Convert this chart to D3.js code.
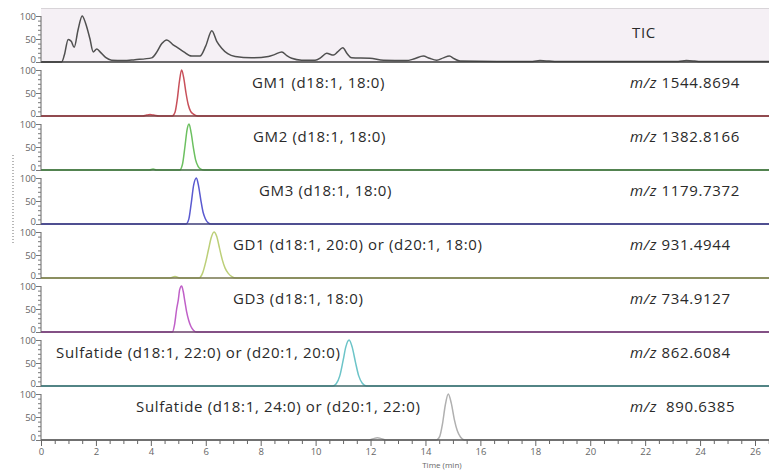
<!DOCTYPE html>
<html lang="en">
<head>
<meta charset="UTF-8">
<title>Ganglioside chromatograms</title>
<style>
  body { margin: 0; background: #fff; }
  svg { display: block; }
  .lbl { font-family: "Open Sans", sans-serif; font-size: 15px; letter-spacing: 0.65px; fill: #2a2a2a; }
  .tick-lbl { font-family: "Open Sans", sans-serif; font-size: 9.5px; fill: #666; }
</style>
</head>
<body>
<svg id="chart" width="769" height="472"></svg>
<script src="https://cdn.jsdelivr.net/npm/d3@7"></script>
<script>
// trace data (time in min, relative intensity %)
const ticTime = [0, 0.75, 0.85, 0.99, 1.1, 1.21, 1.35, 1.5, 1.62, 1.78, 1.9, 2.03, 2.15, 2.35, 2.57, 3.0, 3.42, 4.03, 4.2, 4.4, 4.58, 4.8, 5.0, 5.2, 5.49, 5.79, 6.0, 6.22, 6.4, 6.58, 6.8, 7.07, 7.67, 8.28, 8.5, 8.77, 8.95, 9.13, 9.49, 9.98, 10.2, 10.4, 10.65, 10.8, 10.99, 11.15, 11.31, 11.98, 12.47, 13.3, 13.6, 13.92, 14.15, 14.41, 14.65, 14.87, 15.05, 15.26, 16.6, 17.9, 18.17, 18.5, 18.78, 20, 22, 23.2, 23.5, 23.8, 24.0, 27];
const ticInt  = [0, 0, 15, 49, 45, 32, 70, 100, 85, 51, 22, 28, 22, 10, 4, 3, 5, 9, 20, 40, 48, 38, 30, 22, 13, 13, 35, 68, 45, 30, 18, 12, 9, 12, 16, 22, 14, 8, 4, 4, 10, 19, 15, 22, 31, 18, 9, 8, 4, 3, 7, 13, 8, 4, 9, 13, 7, 2, 1, 1, 3, 2, 1, 1, 1, 1, 3, 2, 1, 1];

const gm1Time = [0, 3.7, 3.85, 3.97, 4.1, 4.3, 4.78, 4.88, 4.96, 5.04, 5.12, 5.2, 5.28, 5.36, 5.45, 5.55, 5.7, 27];
const gm1Int  = [0, 0, 2, 3, 2, 0, 0, 8, 35, 75, 100, 82, 50, 25, 10, 4, 0, 0];

const gm2Time = [0, 3.95, 4.08, 4.2, 5.05, 5.15, 5.24, 5.32, 5.39, 5.47, 5.55, 5.63, 5.72, 5.82, 5.95, 27];
const gm2Int  = [0, 0, 2, 0, 0, 12, 50, 88, 100, 80, 48, 22, 8, 2, 0, 0];

const gm3Time = [0, 5.28, 5.38, 5.47, 5.56, 5.66, 5.74, 5.82, 5.9, 5.98, 6.08, 6.2, 27];
const gm3Int  = [0, 0, 10, 45, 85, 100, 82, 52, 26, 12, 3, 0, 0];

const gd1Time = [0, 4.7, 4.88, 5.05, 5.75, 5.88, 6.0, 6.1, 6.2, 6.3, 6.4, 6.5, 6.6, 6.7, 6.82, 6.95, 7.1, 27];
const gd1Int  = [0, 0, 3, 0, 0, 10, 35, 62, 88, 100, 90, 65, 40, 22, 10, 3, 0, 0];

const gd3Time = [0, 4.78, 4.86, 4.94, 5.0, 5.05, 5.12, 5.18, 5.24, 5.3, 5.38, 5.46, 5.55, 5.67, 27];
const gd3Int  = [0, 0, 15, 50, 70, 92, 100, 88, 66, 45, 25, 12, 4, 0, 0];

const sulf1Time = [0, 10.62, 10.75, 10.88, 11.0, 11.1, 11.22, 11.33, 11.45, 11.57, 11.7, 11.85, 27];
const sulf1Int  = [0, 0, 5, 22, 55, 85, 100, 85, 52, 22, 6, 0, 0];

const sulf2Time = [0, 11.95, 12.1, 12.25, 12.4, 12.55, 14.4, 14.52, 14.62, 14.72, 14.83, 14.94, 15.05, 15.16, 15.28, 15.42, 27];
const sulf2Int  = [0, 0, 3, 5, 3, 0, 0, 8, 35, 75, 100, 80, 45, 20, 6, 0, 0];

const names  = ["TIC", "GM1 (d18:1, 18:0)", "GM2 (d18:1, 18:0)", "GM3 (d18:1, 18:0)",
                "GD1 (d18:1, 20:0) or (d20:1, 18:0)", "GD3 (d18:1, 18:0)",
                "Sulfatide (d18:1, 22:0) or (d20:1, 20:0)", "Sulfatide (d18:1, 24:0) or (d20:1, 22:0)"];
const mzText = [null, "1544.8694", "1382.8166", "1179.7372", "931.4944", "734.9127", "862.6084", " 890.6385"];
const yTicks = [0, 50, 100];
const xTicks = [0, 2, 4, 6, 8, 10, 12, 14, 16, 18, 20, 22, 24, 26];

const traces = [
  [ticTime, ticInt], [gm1Time, gm1Int], [gm2Time, gm2Int], [gm3Time, gm3Int],
  [gd1Time, gd1Int], [gd3Time, gd3Int], [sulf1Time, sulf1Int], [sulf2Time, sulf2Int]
];
const lineColors = ["#505050", "#c8505a", "#6cc060", "#5a5ad0", "#bccf78", "#c060c8", "#6cc4c8", "#b0b0b0"];
const baseColors = ["#3a3a3a", "#7a3a3e", "#3e6a3e", "#3e3e78", "#76764e", "#6a3e6a", "#3e6a6a", "#555555"];
const labelX = [632, 252, 253, 259, 233, 233, 56, 136];

const svg = d3.select("#chart");
const W = 769;
const left = 41, panelH = 54, firstBase = 62;

const x = d3.scaleLinear().domain([0, 26]).range([left, 755]);

// small dotted mark at far left
svg.append("line")
  .attr("x1", 13).attr("x2", 13).attr("y1", 155).attr("y2", 245)
  .attr("stroke", "#888").attr("stroke-width", 1.2)
  .attr("stroke-dasharray", "1,2");

traces.forEach((tr, i) => {
  const base = firstBase + panelH * i;
  const y = d3.scaleLinear().domain([0, 100]).range([base, base - 46]);
  const g = svg.append("g");

  if (i === 0) {
    g.append("rect")
      .attr("x", left).attr("y", base - panelH)
      .attr("width", W - left).attr("height", panelH)
      .attr("fill", "#f5f0f5");
    g.append("line")
      .attr("x1", left).attr("x2", W)
      .attr("y1", base - panelH + 0.5).attr("y2", base - panelH + 0.5)
      .attr("stroke", "#d8d4d8");
  }

  const pts = tr[0].map((t, k) => [t, tr[1][k]]);
  const line = d3.line()
    .x(d => x(d[0]))
    .y(d => y(d[1]))
    .curve(d3.curveMonotoneX);

  g.append("path")
    .datum(pts)
    .attr("fill", "none")
    .attr("stroke", lineColors[i])
    .attr("stroke-width", 1.5)
    .attr("stroke-linejoin", "round")
    .attr("d", line);

  // baseline
  g.append("line")
    .attr("x1", left).attr("x2", W)
    .attr("y1", base).attr("y2", base)
    .attr("stroke", baseColors[i]).attr("stroke-width", 1.6);

  // y axis
  const ya = d3.axisLeft(y)
    .tickValues(d3.range(0, 101, 10))
    .tickSize(3)
    .tickFormat(d => yTicks.includes(d) ? d : "");
  const ag = g.append("g").attr("transform", `translate(${left},0)`).call(ya);
  ag.select(".domain").attr("stroke", "#666").attr("d", `M0,${base}V${base - 46}`);
  ag.selectAll(".tick line").attr("stroke", "#777")
    .attr("x2", d => yTicks.includes(d) ? -5 : -3);
  ag.selectAll(".tick text")
    .attr("class", "tick-lbl")
    .attr("x", -5)
    .attr("dy", d => d === 0 ? "0.1em" : "0.32em")
    .attr("font-family", null).attr("font-size", null);

  // labels
  const ly = i === 0 ? base - 29.5 : base - 33.5;
  g.append("text")
    .attr("class", "lbl")
    .attr("x", labelX[i]).attr("y", ly)
    .attr("dy", "0.35em")
    .text(names[i]);
  if (mzText[i]) {
    const t = g.append("text")
      .attr("class", "lbl")
      .attr("x", 630).attr("y", ly)
      .attr("dy", "0.35em")
      .attr("xml:space", "preserve");
    t.append("tspan").attr("font-style", "italic").text("m/z");
    t.append("tspan").text(" " + mzText[i]);
  }
});

// time axis under last panel
const lastBase = firstBase + panelH * 7;
const xa = d3.axisBottom(x)
  .tickValues(d3.range(0, 27, 0.5))
  .tickSize(3)
  .tickFormat(d => xTicks.includes(d) ? d : "");
const xg = svg.append("g").attr("transform", `translate(0,${lastBase})`).call(xa);
xg.select(".domain").remove();
xg.selectAll(".tick line").attr("stroke", "#666")
  .attr("y2", d => xTicks.includes(d) ? 6 : 4);
xg.selectAll(".tick text")
  .attr("class", "tick-lbl")
  .attr("y", 8)
  .attr("font-family", null).attr("font-size", null);

svg.append("text")
  .attr("class", "tick-lbl")
  .attr("x", x(14.6)).attr("y", 468)
  .attr("text-anchor", "middle")
  .style("font-size", "8px")
  .text("Time (min)");
</script>
</body>
</html>
